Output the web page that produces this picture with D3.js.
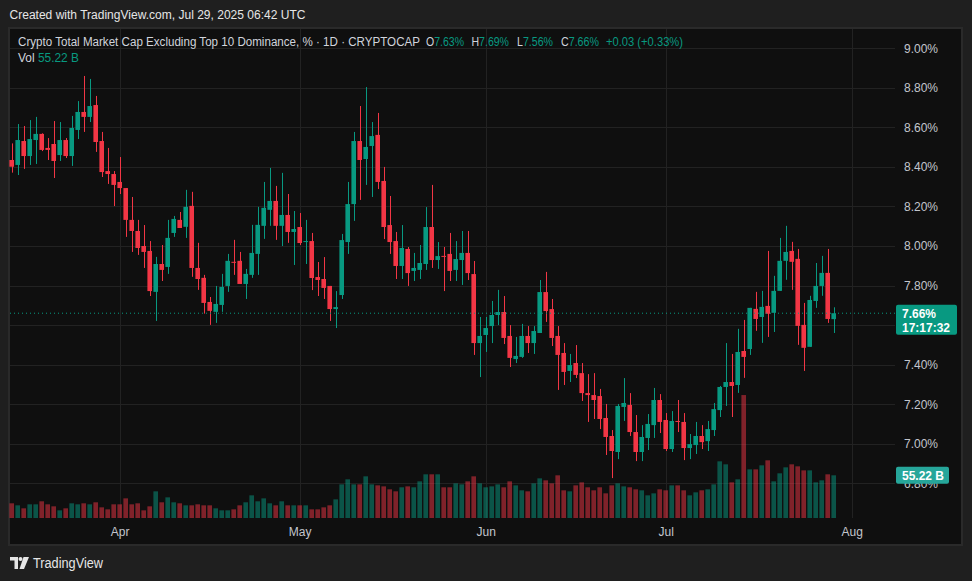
<!DOCTYPE html>
<html>
<head>
<meta charset="utf-8">
<script src="https://cdn.jsdelivr.net/npm/d3@7/dist/d3.min.js"></script>
<style>
  body { margin: 0; background: #1f1f1f; }
  svg { display: block; font-family: "Liberation Sans", Arial, sans-serif; }
</style>
</head>
<body>
<div id="chart"></div>
<script>

// daily candles, first one is Mar 14 2025
const START_DATE = Date.UTC(2025, 2, 14)

const opens = [
  8.435, 8.410, 8.531, 8.455, 8.536, 8.567, 8.496, 8.516, 8.460, 8.536,
  8.455, 8.587, 8.678, 8.653, 8.713, 8.531, 8.379, 8.364, 8.324, 8.293,
  8.132, 8.076, 8.000, 7.975, 7.768, 7.909, 7.894, 8.066, 8.132, 8.097,
  8.203, 7.889, 7.839, 7.717, 7.667, 7.702, 7.798, 7.920, 7.925, 7.808,
  7.854, 7.960, 8.102, 8.183, 8.228, 8.102, 8.157, 8.071, 8.096, 8.020,
  8.025, 7.843, 7.833, 7.798, 7.681, 7.752, 8.020, 8.212, 8.531, 8.440,
  8.506, 8.562, 8.329, 8.106, 8.025, 7.899, 7.985, 7.874, 7.879, 7.909,
  8.096, 7.929, 7.950, 7.960, 7.879, 7.929, 7.965, 7.858, 7.509, 7.550,
  7.595, 7.651, 7.666, 7.545, 7.428, 7.439, 7.545, 7.509, 7.560, 7.767,
  7.681, 7.545, 7.459, 7.368, 7.408, 7.357, 7.256, 7.246, 7.241, 7.130,
  7.039, 6.958, 7.186, 7.196, 7.059, 6.958, 7.029, 7.094, 7.221, 7.120,
  6.973, 7.115, 7.110, 6.978, 6.993, 7.039, 7.013, 7.069, 7.170, 7.287,
  7.312, 7.297, 7.469, 7.479, 7.682, 7.641, 7.697, 7.662, 7.773, 7.925,
  7.975, 7.935, 7.601, 7.490, 7.722, 7.798, 7.864, 7.63
]
const highs = [
  8.519, 8.617, 8.607, 8.637, 8.653, 8.570, 8.546, 8.632, 8.627, 8.546,
  8.658, 8.733, 8.860, 8.845, 8.759, 8.577, 8.496, 8.379, 8.450, 8.293,
  8.248, 8.132, 8.106, 8.025, 7.945, 8.005, 8.132, 8.152, 8.172, 8.284,
  8.274, 8.016, 7.854, 7.742, 7.798, 7.859, 7.960, 8.031, 7.970, 7.884,
  8.107, 8.198, 8.324, 8.395, 8.304, 8.370, 8.263, 8.177, 8.167, 8.132,
  8.066, 7.919, 7.944, 7.798, 7.772, 8.061, 8.324, 8.577, 8.708, 8.804,
  8.627, 8.673, 8.400, 8.253, 8.071, 8.106, 7.995, 7.965, 8.005, 8.197,
  8.309, 8.020, 7.995, 8.066, 8.025, 8.076, 8.076, 7.924, 7.641, 7.641,
  7.722, 7.778, 7.747, 7.600, 7.540, 7.606, 7.595, 7.595, 7.828, 7.869,
  7.732, 7.595, 7.509, 7.454, 7.499, 7.408, 7.352, 7.357, 7.277, 7.201,
  7.069, 7.201, 7.332, 7.256, 7.145, 7.094, 7.150, 7.282, 7.251, 7.155,
  7.165, 7.221, 7.155, 7.049, 7.110, 7.094, 7.115, 7.206, 7.292, 7.509,
  7.454, 7.581, 7.626, 7.687, 7.768, 7.773, 7.975, 7.849, 8.041, 8.102,
  8.021, 7.985, 7.712, 7.748, 7.914, 7.950, 7.985, 7.69
]
const lows = [
  8.371, 8.359, 8.390, 8.410, 8.415, 8.480, 8.435, 8.344, 8.430, 8.445,
  8.405, 8.541, 8.577, 8.627, 8.476, 8.349, 8.314, 8.202, 8.263, 8.046,
  7.970, 7.955, 7.889, 7.747, 7.621, 7.823, 7.859, 8.046, 8.091, 8.041,
  7.844, 7.778, 7.658, 7.601, 7.611, 7.667, 7.768, 7.854, 7.808, 7.732,
  7.839, 7.854, 8.036, 8.102, 8.031, 8.000, 8.016, 7.904, 8.005, 7.909,
  7.777, 7.747, 7.732, 7.621, 7.585, 7.732, 7.960, 8.127, 8.233, 8.309,
  8.248, 8.288, 8.035, 7.960, 7.833, 7.833, 7.798, 7.823, 7.833, 7.879,
  7.889, 7.884, 7.772, 7.823, 7.823, 7.803, 7.828, 7.449, 7.337, 7.464,
  7.509, 7.600, 7.504, 7.388, 7.408, 7.434, 7.459, 7.454, 7.560, 7.616,
  7.494, 7.272, 7.297, 7.312, 7.332, 7.216, 7.110, 7.125, 7.074, 6.943,
  6.826, 6.922, 7.115, 7.039, 6.912, 6.912, 6.968, 7.029, 7.054, 6.963,
  6.958, 7.059, 6.917, 6.922, 6.948, 6.973, 6.963, 7.039, 7.135, 7.191,
  7.135, 7.257, 7.333, 7.449, 7.571, 7.510, 7.540, 7.565, 7.773, 7.829,
  7.778, 7.500, 7.368, 7.490, 7.687, 7.748, 7.611, 7.56
]
const closes = [
  8.401, 8.536, 8.455, 8.541, 8.567, 8.486, 8.486, 8.430, 8.536, 8.455,
  8.597, 8.678, 8.653, 8.708, 8.526, 8.374, 8.364, 8.309, 8.293, 8.132,
  8.076, 7.990, 7.970, 7.772, 7.909, 7.879, 8.041, 8.137, 8.091, 8.198,
  7.889, 7.833, 7.712, 7.672, 7.707, 7.793, 7.925, 7.915, 7.808, 7.859,
  7.965, 8.107, 8.193, 8.228, 8.102, 8.157, 8.071, 8.086, 8.015, 8.025,
  7.838, 7.828, 7.788, 7.681, 7.691, 8.030, 8.212, 8.531, 8.435, 8.501,
  8.556, 8.324, 8.096, 8.020, 7.899, 7.990, 7.863, 7.889, 7.914, 8.096,
  7.929, 7.949, 7.947, 7.874, 7.934, 7.965, 7.863, 7.509, 7.545, 7.585,
  7.651, 7.666, 7.535, 7.434, 7.444, 7.545, 7.509, 7.570, 7.767, 7.671,
  7.535, 7.449, 7.363, 7.398, 7.348, 7.256, 7.246, 7.221, 7.125, 7.034,
  6.963, 7.191, 7.206, 7.059, 6.958, 7.034, 7.100, 7.221, 7.110, 6.973,
  7.115, 7.110, 6.978, 6.998, 7.039, 7.008, 7.074, 7.175, 7.287, 7.312,
  7.292, 7.464, 7.439, 7.687, 7.631, 7.692, 7.657, 7.773, 7.925, 7.970,
  7.920, 7.596, 7.485, 7.727, 7.798, 7.864, 7.631, 7.66
]
// volume in billions
const volumes = [
  19.0, 16.4, 12.5, 17.7, 17.7, 21.6, 17.7, 15.1, 9.9, 12.5,
  19.0, 17.7, 19.0, 17.7, 20.3, 13.8, 11.2, 17.7, 17.7, 25.4,
  17.7, 19.0, 9.9, 15.1, 34.5, 20.3, 26.7, 20.3, 19.0, 16.4,
  16.4, 17.7, 16.4, 16.4, 12.5, 9.9, 9.9, 11.2, 16.4, 20.3,
  29.3, 21.6, 25.4, 19.0, 16.4, 21.6, 16.4, 16.4, 16.4, 16.4,
  11.2, 11.2, 13.8, 16.4, 24.1, 43.5, 50.0, 43.5, 43.5, 53.9,
  43.5, 42.2, 40.9, 37.1, 34.5, 39.7, 40.9, 39.7, 47.4, 56.5,
  56.5, 56.5, 39.7, 39.7, 44.8, 43.5, 47.4, 53.9, 44.8, 39.7,
  40.9, 43.5, 39.7, 47.4, 42.2, 35.8, 34.5, 44.8, 51.3, 48.7,
  44.8, 55.2, 35.8, 34.5, 42.2, 46.1, 39.7, 35.8, 39.7, 31.9,
  42.2, 44.8, 40.9, 39.7, 37.1, 35.8, 29.3, 31.9, 37.1, 35.8,
  42.2, 42.2, 35.8, 29.3, 33.2, 35.8, 37.1, 43.5, 73.3, 69.4,
  46.1, 50.0, 159, 62.9, 62.9, 68.1, 74.6, 47.4, 57.8, 65.5,
  69.4, 66.8, 61.6, 61.6, 46.1, 48.7, 56.5, 55.22
]

// 7.60% sits under the price badge, so it is not labelled
const priceTicks = [6.8, 7.0, 7.2, 7.4, 7.8, 8.0, 8.2, 8.4, 8.6, 8.8, 9.0]
const gridTicks = [6.8, 7.0, 7.2, 7.4, 7.6, 7.8, 8.0, 8.2, 8.4, 8.6, 8.8, 9.0]
const monthTicks = [Date.UTC(2025, 3, 1), Date.UTC(2025, 4, 1), Date.UTC(2025, 5, 1), Date.UTC(2025, 6, 1), Date.UTC(2025, 7, 1)]

const lastPrice = 7.66
const lastVolume = 55.22

const UP = "#089981"
const DOWN = "#f23645"
const TEXT = "#c3c6cd"

var width = 972
var height = 581
var plot = ({left: 10, right: 895, top: 29, bottom: 518})

var svg = d3.select("#chart")
  .append("svg")
    .attr("width", width)
    .attr("height", height)

// panel
svg.append("rect")
  .attr("x", 9).attr("y", 28)
  .attr("width", 953).attr("height", 517)
  .attr("fill", "#0f0f0f")
  .attr("stroke", "#2a2a2a")
  .attr("stroke-width", 2)

var data = opens.map((o, i) => ({
  date: new Date(START_DATE + i * 864e5),
  open: o, high: highs[i], low: lows[i], close: closes[i], vol: volumes[i]
}))

var xScale = d3.scaleUtc()
  .domain([new Date(START_DATE), data[data.length - 1].date])
  .range([11.7, 833.7])

var yScale = d3.scaleLinear()
  .domain([7, 9])
  .range([443.7, 48.3])

var vScale = d3.scaleLinear()
  .domain([0, lastVolume])
  .range([plot.bottom, 475.3])

var bodyW = 4.6

// grid
var grid = svg.append("g").attr("stroke", "#222222").attr("stroke-width", 1)
grid.selectAll(".hg").data(gridTicks).join("line")
  .attr("x1", plot.left).attr("x2", plot.right)
  .attr("y1", d => Math.round(yScale(d)) + 0.5)
  .attr("y2", d => Math.round(yScale(d)) + 0.5)
grid.selectAll(".vg").data(monthTicks).join("line")
  .attr("y1", plot.top).attr("y2", plot.bottom)
  .attr("x1", d => Math.round(xScale(d)) + 0.5)
  .attr("x2", d => Math.round(xScale(d)) + 0.5)

var g = svg.append("g")

// volume
g.selectAll(".vol").data(data).join("rect")
  .attr("x", d => xScale(d.date) - bodyW / 2)
  .attr("width", bodyW)
  .attr("y", d => vScale(d.vol))
  .attr("height", d => plot.bottom - vScale(d.vol))
  .attr("fill", d => d.close >= d.open ? UP : DOWN)
  .attr("fill-opacity", 0.5)

// wicks
g.selectAll(".wick").data(data).join("line")
  .attr("x1", d => Math.round(xScale(d.date)) + 0.5)
  .attr("x2", d => Math.round(xScale(d.date)) + 0.5)
  .attr("y1", d => yScale(d.high))
  .attr("y2", d => yScale(d.low))
  .attr("stroke", d => d.close >= d.open ? UP : DOWN)
  .attr("stroke-width", 1)

// bodies
g.selectAll(".body").data(data).join("rect")
  .attr("x", d => xScale(d.date) - bodyW / 2)
  .attr("width", bodyW)
  .attr("y", d => yScale(Math.max(d.open, d.close)))
  .attr("height", d => Math.max(1, Math.abs(yScale(d.open) - yScale(d.close))))
  .attr("fill", d => d.close >= d.open ? UP : DOWN)

// last price line
svg.append("line")
  .attr("x1", plot.left).attr("x2", plot.right)
  .attr("y1", yScale(lastPrice)).attr("y2", yScale(lastPrice))
  .attr("stroke", UP)
  .attr("stroke-width", 1)
  .attr("stroke-dasharray", "1,3")

// axes
var xAxis = svg.append("g")
  .attr("transform", "translate(0,532)")
  .call(d3.axisBottom(xScale).tickValues(monthTicks.map(d => new Date(d)))
    .tickFormat(d3.utcFormat("%b")).tickSize(0).tickPadding(0))
xAxis.select(".domain").remove()
xAxis.selectAll("text")
  .attr("dy", "0.35em")
  .attr("fill", TEXT)
  .style("font-size", "12px")
  .style("font-family", "Liberation Sans, Arial, sans-serif")

var yAxis = svg.append("g")
  .attr("transform", "translate(904,0)")
  .call(d3.axisRight(yScale).tickValues(priceTicks)
    .tickFormat(d => d.toFixed(2) + "%").tickSize(0).tickPadding(0))
yAxis.select(".domain").remove()
yAxis.selectAll("text")
  .attr("fill", TEXT)
  .style("font-size", "12px")
  .style("font-family", "Liberation Sans, Arial, sans-serif")

// badges
var pb = svg.append("g")
pb.append("rect")
  .attr("x", 896).attr("y", yScale(lastPrice) - 8.5)
  .attr("width", 61).attr("height", 30).attr("rx", 2)
  .attr("fill", UP)
pb.append("text")
  .attr("x", 902).attr("y", yScale(lastPrice) + 4.5)
  .attr("fill", "#ffffff").attr("font-size", 12).attr("font-weight", "bold")
  .text(lastPrice.toFixed(2) + "%")
pb.append("text")
  .attr("x", 902).attr("y", yScale(lastPrice) + 18.5)
  .attr("fill", "#ffffff").attr("font-size", 12).attr("font-weight", "bold")
  .text("17:17:32")

var vb = svg.append("g")
vb.append("rect")
  .attr("x", 896).attr("y", vScale(lastVolume) - 8.5)
  .attr("width", 53).attr("height", 17).attr("rx", 2)
  .attr("fill", "#26a69a")
vb.append("text")
  .attr("x", 902).attr("y", vScale(lastVolume) + 4.5)
  .attr("fill", "#ffffff").attr("font-size", 12).attr("font-weight", "bold")
  .text(lastVolume.toFixed(2) + " B")

// header and legend
function label(x, y, txt, color, len, size) {
  var t = svg.append("text")
    .attr("x", x).attr("y", y)
    .attr("fill", color)
    .attr("font-size", size || 12)
    .attr("dominant-baseline", "central")
    .text(txt)
  if (len) t.attr("textLength", len).attr("lengthAdjust", "spacingAndGlyphs")
  return t
}

// "O7.63%" style pair: grey letter, teal value, one text element
function pair(x, y, key, value, len) {
  var t = svg.append("text")
    .attr("x", x).attr("y", y)
    .attr("font-size", 12)
    .attr("dominant-baseline", "central")
    .attr("textLength", len).attr("lengthAdjust", "spacingAndGlyphs")
  t.append("tspan").attr("fill", GREY).text(key)
  t.append("tspan").attr("fill", UP).text(value)
  return t
}

const GREY = "#d1d4dc"
label(9.5, 15, "Created with TradingView.com, Jul 29, 2025 06:42 UTC", "#e6e6e6", 296)
label(18, 42, "Crypto Total Market Cap Excluding Top 10 Dominance, % \u00b7 1D \u00b7 CRYPTOCAP", GREY, 402)
pair(426, 42, "O", opens[opens.length - 1].toFixed(2) + "%", 38)
pair(471.5, 42, "H", highs[highs.length - 1].toFixed(2) + "%", 37.5)
pair(517, 42, "L", lows[lows.length - 1].toFixed(2) + "%", 36)
pair(561, 42, "C", closes[closes.length - 1].toFixed(2) + "%", 38)
label(606, 42, "+0.03 (+0.33%)", UP, 77)
pair(18, 58, "Vol  ", lastVolume.toFixed(2) + " B", 61)

// footer logo
var logo = svg.append("g").attr("fill", "#e6e6e6")
logo.append("path").attr("d", "M10,557 H18 V569 H14.5 V560.5 H10 Z")
logo.append("circle").attr("cx", 20.5).attr("cy", 559).attr("r", 2)
logo.append("path").attr("d", "M23.5,557 H29 L24,569 H19.5 Z")
label(33, 563, "TradingView", "#e6e6e6", 70, 14)

</script>
</body>
</html>
